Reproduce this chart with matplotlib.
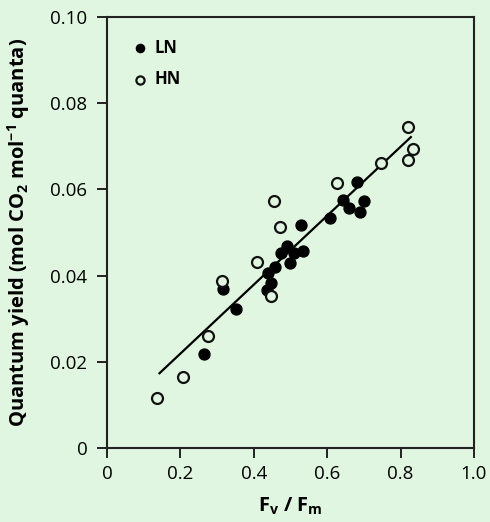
import matplotlib.pyplot as plt

plt.rcParams['font.family'] = ['Open Sans', 'DejaVu Sans']
plt.rcParams['mathtext.fontset'] = 'custom'
plt.rcParams['mathtext.rm'] = 'Open Sans'
plt.rcParams['mathtext.bf'] = 'Open Sans:bold'
plt.rcParams['mathtext.it'] = 'Open Sans:italic'

# LN (filled) and HN (open) points: Fv/Fm vs quantum yield
ln_x = [0.680, 0.642, 0.699, 0.660, 0.689, 0.609, 0.529, 0.490, 0.474, 0.510,
        0.533, 0.499, 0.458, 0.440, 0.446, 0.435, 0.315, 0.351, 0.264]
ln_y = [0.0618, 0.0575, 0.0573, 0.0557, 0.0548, 0.0533, 0.0517, 0.0469, 0.0452, 0.0453,
        0.0458, 0.0429, 0.0419, 0.0405, 0.0382, 0.0367, 0.0369, 0.0323, 0.0218]
hn_x = [0.821, 0.835, 0.821, 0.746, 0.626, 0.455, 0.471, 0.410, 0.446, 0.314,
        0.274, 0.208, 0.137]
hn_y = [0.0744, 0.0694, 0.0668, 0.0661, 0.0616, 0.0573, 0.0513, 0.0431, 0.0352, 0.0387,
        0.0260, 0.0165, 0.0115]
# regression line
fit_x = [0.143, 0.828]
slope = 0.080
intercept = 0.0059

bg = '#e0f6e0'
fig = plt.figure(figsize=(4.9, 5.22), dpi=100, facecolor=bg)
ax = fig.add_axes([0.2184, 0.1418, 0.9673 - 0.2184, 0.9674 - 0.1418])
ax.set_facecolor(bg)

ax.plot(fit_x, [intercept + slope * v for v in fit_x], color='black', lw=1.6, zorder=2)
ax.scatter(ln_x, ln_y, s=62, color='black', zorder=3, label='LN')
ax.scatter(hn_x, hn_y, s=62, facecolor=bg, edgecolor='#111111', linewidths=1.6,
           zorder=4, label='HN')

ax.set_xlim(0, 1.0)
ax.set_ylim(0, 0.10)
ax.set_xticks([0, 0.2, 0.4, 0.6, 0.8, 1.0])
ax.set_xticklabels(['0', '0.2', '0.4', '0.6', '0.8', '1.0'])
ax.set_yticks([0, 0.02, 0.04, 0.06, 0.08, 0.10])
ax.set_yticklabels(['0', '0.02', '0.04', '0.06', '0.08', '0.10'])
ax.tick_params(direction='out', length=7.2, width=1.4, labelsize=13.5, color='#222222')
ax.tick_params(axis='y', pad=7)
ax.tick_params(axis='x', pad=5)
for s in ax.spines.values():
    s.set_linewidth(1.5)
    s.set_color('#222222')

ax.set_xlabel(r'F$_\mathbf{v}$ / F$_\mathbf{m}$', fontsize=14.5, fontweight='bold', labelpad=9)
ax.set_ylabel(r'Quantum yield (mol CO$_\mathbf{2}$ mol$^\mathbf{-1}$ quanta)',
              fontsize=14.5, fontweight='bold', labelpad=13)

leg = ax.legend(loc='upper left', frameon=False, prop={'weight': 'bold', 'size': 12},
                handlelength=1.4, handletextpad=0.15, labelspacing=0.8,
                borderaxespad=0.9, markerscale=0.75)

fig.savefig('out.png', dpi=100, facecolor=bg)
